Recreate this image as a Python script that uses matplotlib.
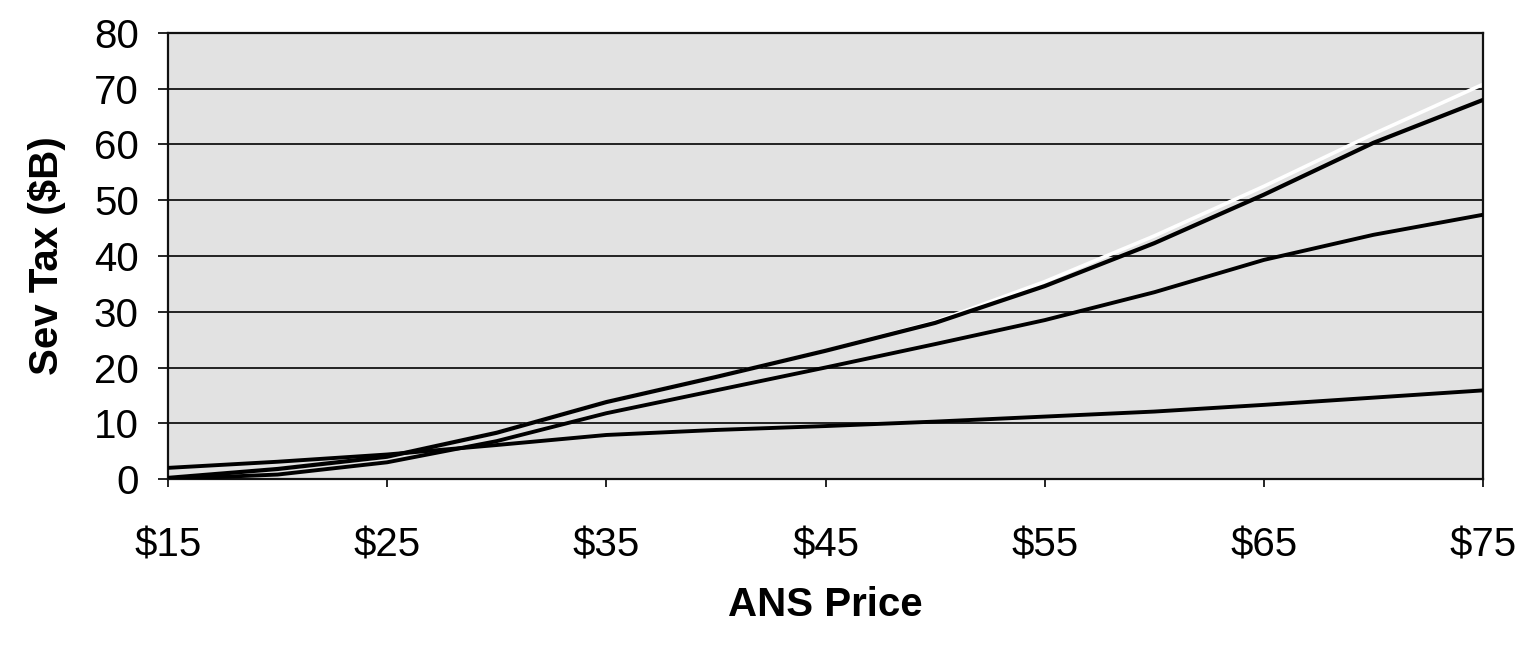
import matplotlib.pyplot as plt
import numpy as np

plt.rcParams['font.family'] = ['Liberation Sans', 'DejaVu Sans']

# ANS price and severance tax totals ($B) for each tax structure
price = [15, 20, 25, 30, 35, 40, 45, 50, 55, 60, 65, 70, 75]
tax_high = [0.2, 1.8, 4.0, 8.3, 13.8, 18.3, 23.0, 28.0, 34.6, 42.3, 51.0, 60.3, 68.0]
tax_upper = [0.2, 1.8, 4.0, 8.3, 13.8, 18.3, 23.0, 28.2, 35.4, 43.6, 52.5, 61.9, 70.8]
tax_mid = [0.0, 0.8, 3.0, 6.8, 11.8, 15.9, 20.0, 24.2, 28.5, 33.5, 39.3, 43.8, 47.4]
tax_low = [2.0, 3.1, 4.4, 6.1, 7.9, 8.8, 9.5, 10.3, 11.2, 12.1, 13.3, 14.6, 15.9]

x_ticks = [15, 25, 35, 45, 55, 65, 75]
x_labels = ['$15', '$25', '$35', '$45', '$55', '$65', '$75']
y_ticks = [0, 10, 20, 30, 40, 50, 60, 70, 80]

fig = plt.figure(figsize=(15.31, 6.49), dpi=100)
ax = fig.add_axes([0.1097, 0.2619, 0.8590, 0.6873])
ax.set_facecolor('#e2e2e2')

for yv in y_ticks[1:]:
    ax.axhline(yv, color='#222222', lw=1.4, zorder=1)

# light companion line riding just above the steepest curve
ax.plot(price, tax_upper, color='white', lw=2.6, zorder=2)
ax.plot(price, tax_high, color='black', lw=3.0, zorder=3)
ax.plot(price, tax_mid, color='black', lw=2.8, zorder=3)
ax.plot(price, tax_low, color='black', lw=2.8, zorder=3)

ax.set_xlim(15, 75)
ax.set_ylim(0, 80)
ax.set_xticks(x_ticks)
ax.set_xticklabels(x_labels)
ax.set_yticks(y_ticks)

ax.tick_params(axis='both', labelsize=29, direction='out', color='black', width=1.2)
ax.tick_params(axis='x', length=6, pad=28)
ax.tick_params(axis='y', length=7, pad=14)

for s in ax.spines.values():
    s.set_color('#111111')
    s.set_linewidth(1.6)

ax.set_xlabel('ANS Price', fontsize=29, fontweight='bold', labelpad=16)
ax.set_ylabel('Sev Tax ($B)', fontsize=29, fontweight='bold', labelpad=20)

fig.savefig('out.png', dpi=100, facecolor='white')
